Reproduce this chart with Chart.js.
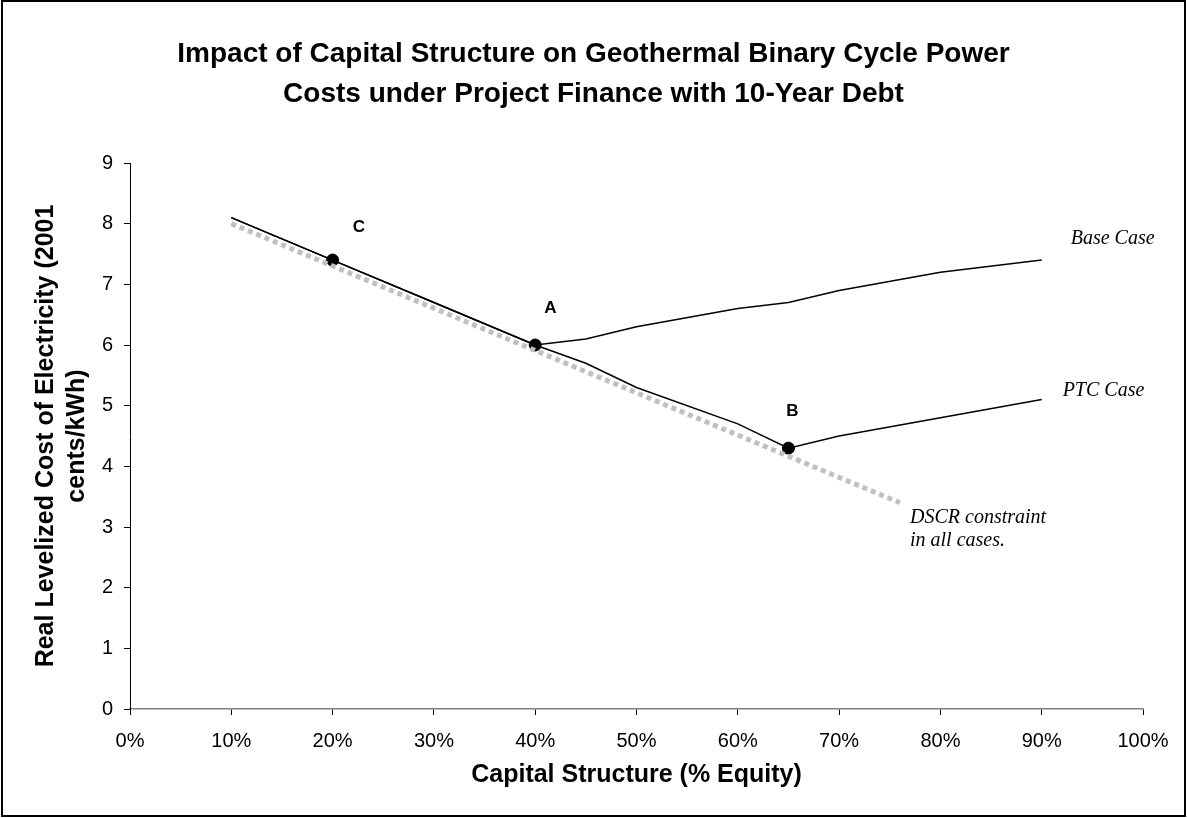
<!DOCTYPE html>
<html>
<head>
<meta charset="utf-8">
<title>Geothermal Binary Cycle Power Costs</title>
<script src="https://cdn.jsdelivr.net/npm/chart.js@4.4.0/dist/chart.umd.min.js"></script>
<style>
  html, body { margin: 0; padding: 0; background: #fff; }
  #wrap { width: 1187px; height: 818px; }
</style>
</head>
<body>
<div id="wrap"><canvas id="chart"></canvas></div>
<script>
// ========== Dados ==========
const equityPct = [10, 20, 30, 40, 45, 50, 60, 65, 70, 80, 90];
const baseCase = [8.1, 7.4, 6.7, 6.0, 6.1, 6.3, 6.6, 6.7, 6.9, 7.2, 7.4];
const ptcCase = [8.1, 7.4, 6.7, 6.0, 5.7, 5.3, 4.7, 4.3, 4.5, 4.8, 5.1];

const dscrPct = [10, 76];
const dscrLimit = [8.0, 3.4];

const markNames = ["C", "A", "B"];
const markPct = [20, 40, 65];
const markCost = [7.4, 6.0, 4.3];

const xTicks = [0, 10, 20, 30, 40, 50, 60, 70, 80, 90, 100];
const yTicks = [0, 1, 2, 3, 4, 5, 6, 7, 8, 9];

const SANS = "Arial, 'Liberation Sans', sans-serif";
const SERIF = "'Times New Roman', 'Liberation Serif', serif";

const pts = (xs, ys) => xs.map((x, i) => ({ x: x, y: ys[i] }));

// ========== Anotações ==========
// posições em unidades do gráfico (% equity, cents/kWh)
const notes = [
  { text: "Base Case", x: 97.0, y: 7.75, font: "italic 20px " + SERIF, align: "center" },
  { text: "PTC Case", x: 96.1, y: 5.24, font: "italic 20px " + SERIF, align: "center" },
  { text: "DSCR constraint", x: 77.0, y: 3.16, font: "italic 20px " + SERIF, align: "left" },
  { text: "in all cases.", x: 77.0, y: 2.77, font: "italic 20px " + SERIF, align: "left" },
];
// letras dos pontos C, A, B
const markLabelPos = [
  { x: 22.6, y: 7.94 },
  { x: 41.5, y: 6.61 },
  { x: 65.4, y: 4.9 },
];

const notesPlugin = {
  id: "notes",
  afterDatasetsDraw(chart) {
    const { ctx, scales } = chart;
    ctx.save();
    ctx.fillStyle = "#000";
    ctx.textBaseline = "middle";
    notes.forEach((n) => {
      ctx.font = n.font;
      ctx.textAlign = n.align;
      ctx.fillText(n.text, scales.x.getPixelForValue(n.x), scales.y.getPixelForValue(n.y));
    });
    ctx.font = "bold 17px " + SANS;
    ctx.textAlign = "center";
    markNames.forEach((name, i) => {
      const p = markLabelPos[i];
      ctx.fillText(name, scales.x.getPixelForValue(p.x), scales.y.getPixelForValue(p.y));
    });
    ctx.restore();
  },
};

const framePlugin = {
  id: "frame",
  beforeDraw(chart) {
    const { ctx, width, height } = chart;
    ctx.save();
    ctx.fillStyle = "#fff";
    ctx.fillRect(0, 0, width, height);
    ctx.restore();
  },
  afterDraw(chart) {
    const { ctx, width, height } = chart;
    ctx.save();
    ctx.strokeStyle = "#000";
    ctx.lineWidth = 2;
    ctx.strokeRect(2, 1, width - 4, height - 3);
    ctx.restore();
  },
};

// ========== Gráfico ==========
new Chart(document.getElementById("chart"), {
  type: "scatter",
  data: {
    datasets: [
      {
        label: "DSCR constraint",
        data: pts(dscrPct, dscrLimit),
        showLine: true,
        borderColor: "#c0c0c0",
        borderWidth: 5,
        borderDash: [5, 4],
        pointRadius: 0,
      },
      {
        label: "PTC Case",
        data: pts(equityPct, ptcCase),
        showLine: true,
        borderColor: "#000",
        borderWidth: 1.5,
        pointRadius: 0,
      },
      {
        label: "Base Case",
        data: pts(equityPct, baseCase),
        showLine: true,
        borderColor: "#000",
        borderWidth: 1.5,
        pointRadius: 0,
      },
      {
        label: "Points",
        data: pts(markPct, markCost),
        showLine: false,
        pointRadius: 6,
        pointBackgroundColor: "#000",
        pointBorderColor: "#000",
      },
    ],
  },
  options: {
    responsive: true,
    maintainAspectRatio: false,
    animation: false,
    layout: { padding: 0 },
    plugins: {
      legend: { display: false },
      tooltip: { enabled: false },
      title: {
        display: true,
        text: [
          "Impact of Capital Structure on Geothermal Binary Cycle Power",
          "Costs under Project Finance with 10-Year Debt",
        ],
        color: "#000",
        font: { family: SANS, size: 28, weight: "bold", lineHeight: 40 / 28 },
        padding: { top: 34, bottom: 49 },
      },
    },
    scales: {
      x: {
        type: "linear",
        min: 0,
        max: 100,
        afterBuildTicks: (s) => { s.ticks = xTicks.map((v) => ({ value: v })); },
        afterFit: (s) => { s.height = 109; },
        border: { display: true, color: "#808080", width: 1.5 },
        grid: { drawOnChartArea: false, drawTicks: true, tickLength: 6, color: "#000" },
        ticks: {
          color: "#000",
          padding: 14,
          maxRotation: 0,
          font: { family: SANS, size: 20 },
          callback: (v) => v + "%",
        },
        title: {
          display: true,
          text: "Capital Structure (% Equity)",
          color: "#000",
          font: { family: SANS, size: 25, weight: "bold", lineHeight: 1.2 },
          padding: { top: 0, bottom: 28 },
        },
      },
      y: {
        type: "linear",
        min: 0,
        max: 9,
        afterBuildTicks: (s) => { s.ticks = yTicks.map((v) => ({ value: v })); },
        afterFit: (s) => { s.width = 130; },
        border: { display: true, color: "#000", width: 1 },
        grid: { drawOnChartArea: false, drawTicks: true, tickLength: 6, color: "#000" },
        ticks: {
          color: "#000",
          padding: 11,
          font: { family: SANS, size: 20 },
        },
        title: {
          display: true,
          text: ["Real Levelized Cost of Electricity (2001", "cents/kWh)"],
          color: "#000",
          font: { family: SANS, size: 25, weight: "bold", lineHeight: 1.24 },
          padding: { top: 31, bottom: 0 },
        },
      },
      spacer: {
        position: "right",
        display: true,
        afterFit: (s) => { s.width = 44; },
        border: { display: false },
        grid: { display: false },
        ticks: { display: false },
      },
    },
  },
  plugins: [framePlugin, notesPlugin],
});
</script>
</body>
</html>
